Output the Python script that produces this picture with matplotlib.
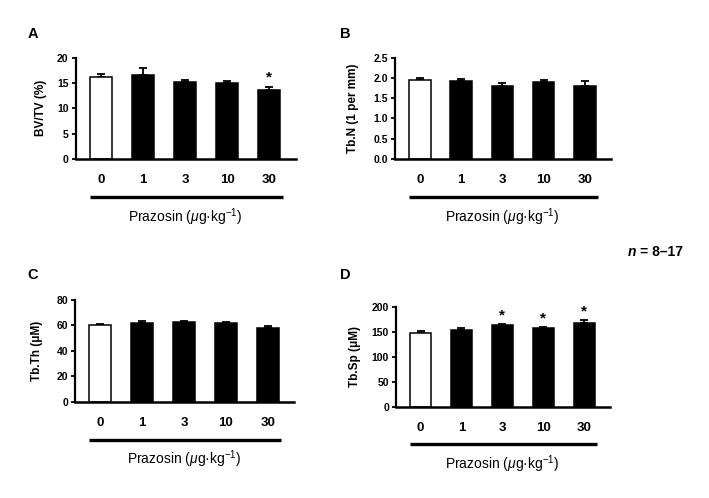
import matplotlib
matplotlib.use("Agg")
import matplotlib.pyplot as plt
import numpy as np

plt.rcParams["font.family"] = ["Liberation Sans", "DejaVu Sans"]
plt.rcParams["mathtext.fontset"] = "custom"
plt.rcParams["mathtext.rm"] = "Liberation Sans"
plt.rcParams["mathtext.it"] = "Liberation Sans:italic"

DOSES = ["0", "1", "3", "10", "30"]

BVTV      = [16.25, 16.65, 15.15, 15.1, 13.55]
BVTV_ERR  = [0.5, 1.25, 0.5, 0.4, 0.75]
BVTV_SIG  = [False, False, False, False, True]

TBN       = [1.96, 1.93, 1.79, 1.89, 1.81]
TBN_ERR   = [0.05, 0.05, 0.08, 0.05, 0.11]
TBN_SIG   = [False] * 5

TBTH      = [60.6, 61.7, 62.7, 61.7, 58.3]
TBTH_ERR  = [0.9, 1.5, 1.0, 1.0, 0.9]
TBTH_SIG  = [False] * 5

TBSP      = [148.0, 154.0, 163.0, 157.0, 166.5]
TBSP_ERR  = [2.5, 4.0, 2.3, 2.0, 6.5]
TBSP_SIG  = [False, False, True, True, True]

PANELS = [
    # letter, ylabel, values, errors, sig, ticks, fmt, axes rect, label x, letter pos
    ("A", "BV/TV (%)", BVTV, BVTV_ERR, BVTV_SIG, np.arange(0, 21, 5), "{:.0f}",
     [0.1065, 0.6807, 0.311, 0.2034], -0.13, (33, 34)),
    ("B", "Tb.N (1 per mm)", TBN, TBN_ERR, TBN_SIG, np.arange(0, 2.51, 0.5), "{:.1f}",
     [0.5571, 0.6807, 0.3047, 0.2034], -0.165, (345, 34)),
    ("C", "Tb.Th (μM)", TBTH, TBTH_ERR, TBTH_SIG, np.arange(0, 81, 20), "{:.0f}",
     [0.1058, 0.1934, 0.309, 0.2042], -0.145, (33, 275)),
    ("D", "Tb.Sp (μM)", TBSP, TBSP_ERR, TBSP_SIG, np.arange(0, 201, 50), "{:.0f}",
     [0.5585, 0.1833, 0.302, 0.2008], -0.165, (345, 275)),
]

W, H = 709, 498
fig = plt.figure(figsize=(W / 100, H / 100), dpi=100)

for letter, ylab, vals, errs, sig, ticks, fmt, rect, lx, lpos in PANELS:
    ax = fig.add_axes(rect)
    x = np.arange(len(DOSES))
    colors = ["white"] + ["black"] * (len(DOSES) - 1)
    ax.errorbar(x, vals, yerr=[np.zeros(len(vals)), errs], fmt="none",
                ecolor="black", elinewidth=1.3, capsize=3.2, capthick=1.3, zorder=1)
    ax.bar(x, vals, width=0.52, color=colors, edgecolor="black", linewidth=1.1, zorder=2)

    for xi, v, e, s in zip(x, vals, errs, sig):
        if s:
            ax.annotate("*", (xi, v + e), xytext=(0, 1.5), textcoords="offset points",
                        ha="center", va="bottom", fontsize=11, fontweight="bold")

    ax.set_xlim(-0.6, 4.63)
    ax.set_ylim(ticks[0], ticks[-1])
    ax.set_yticks(ticks)
    ax.set_yticklabels([fmt.format(t) for t in ticks], fontsize=7.5, fontweight="bold")
    ax.set_xticks(x)
    ax.set_xticklabels(DOSES, fontsize=9.5, fontweight="bold")
    ax.tick_params(axis="x", length=0, pad=11)
    ax.tick_params(axis="y", length=3, width=1.3, pad=2)
    ax.spines[["top", "right"]].set_visible(False)
    ax.spines["left"].set_linewidth(1.6)
    ax.spines["bottom"].set_linewidth(1.8)
    ax.set_ylabel(ylab, fontsize=8.5, fontweight="bold")
    ax.yaxis.set_label_coords(lx, 0.5)

    # bracket line under the dose labels
    tr = ax.get_xaxis_transform()
    ax.plot([-0.26, 4.32], [-0.375, -0.375], transform=tr, color="black",
            linewidth=2.4, clip_on=False, solid_capstyle="butt")
    ax.text(2.0, -0.57, r"Prazosin ($\mu$g·kg$^{-1}$)", transform=tr,
            ha="center", va="center", fontsize=10)

    fig.text(lpos[0] / W, 1 - lpos[1] / H, letter, ha="center", va="center",
             fontsize=10.5, fontweight="bold")

fig.text(0.898, 1 - 252 / H, "n", style="italic", fontweight="bold", fontsize=10,
         ha="right", va="center")
fig.text(0.902, 1 - 252 / H, "= 8–17", fontweight="bold", fontsize=10,
         ha="left", va="center")

fig.savefig("out.png", dpi=100)
